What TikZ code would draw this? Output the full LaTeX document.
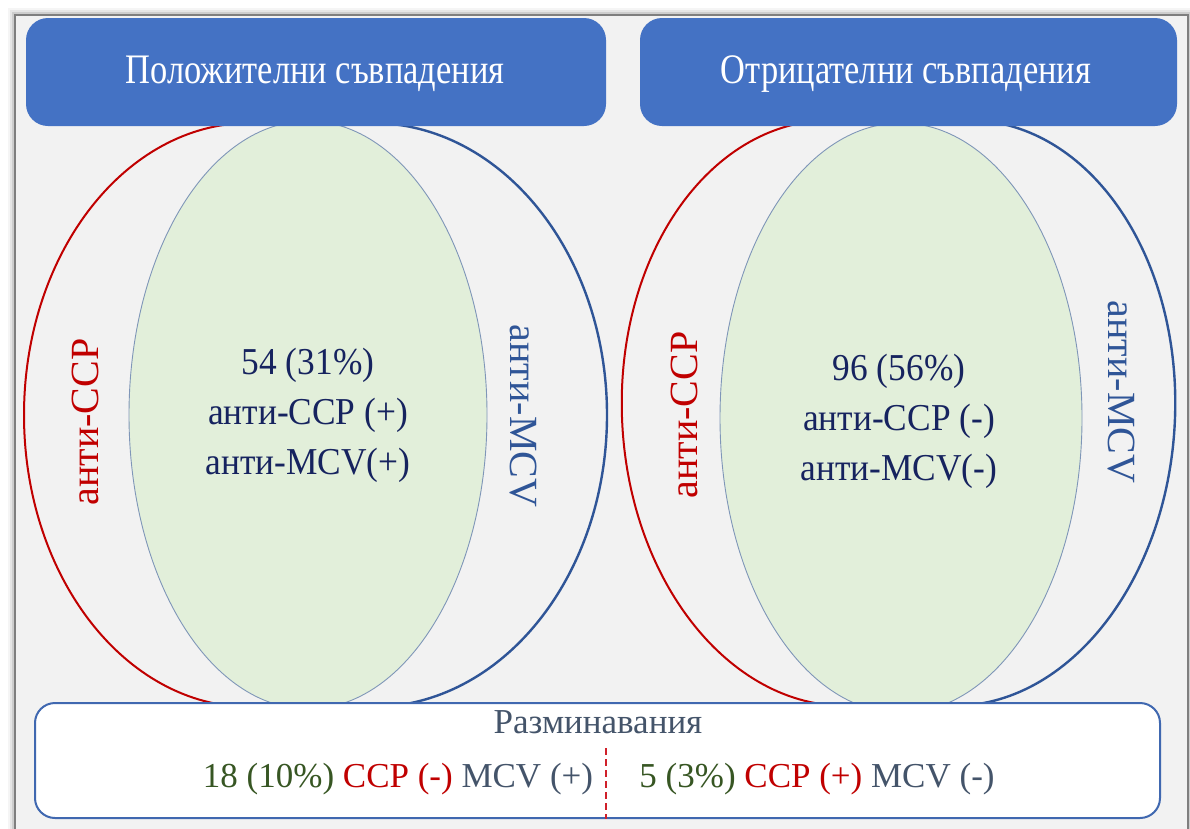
\documentclass[tikz,border=0pt]{standalone}
\usepackage{fontspec}
\usepackage{graphicx}
\setmainfont{Liberation Serif}
\usepackage{tikz}
\usetikzlibrary{shapes.geometric}

\definecolor{framebg}{HTML}{F2F2F2}
\definecolor{frameedge}{HTML}{7F7F7F}
\definecolor{headblue}{HTML}{4472C4}
\definecolor{ccpred}{HTML}{C00000}
\definecolor{mcvblue}{HTML}{2F5597}
\definecolor{bothgreen}{HTML}{E2EFDA}
\definecolor{ringedge}{HTML}{7F96B8}
\definecolor{midnavy}{HTML}{16235F}
\definecolor{boxblue}{HTML}{4068B0}
\definecolor{diffgreen}{HTML}{375623}
\definecolor{diffgray}{HTML}{44546A}
\definecolor{sepred}{HTML}{D0202A}

\newcommand{\narrow}[2]{\scalebox{#1}[1]{#2}}

\begin{document}
\begin{tikzpicture}[x=1pt, y=-1pt,
  ccpring/.style={ellipse, draw=ccpred, line width=2pt, inner sep=0pt},
  mcvring/.style={ellipse, draw=mcvblue, line width=2.4pt, inner sep=0pt},
  bothring/.style={ellipse, draw=ringedge, fill=bothgreen, line width=0.9pt, inner sep=0pt},
  banner/.style={fill=headblue, rounded corners=22pt, inner sep=0pt},
  headtext/.style={text=white, font=\fontsize{42}{50}\selectfont, anchor=base, inner sep=0pt},
  sidetext/.style={font=\fontsize{40}{48}\selectfont, inner sep=0pt},
  midtext/.style={text=midnavy, align=center, font=\fontsize{38}{50}\selectfont, inner sep=0pt},
  diffbox/.style={draw=boxblue, fill=white, line width=2pt, rounded corners=20pt, inner sep=0pt},
  difftext/.style={font=\fontsize{35}{42}\selectfont, anchor=base, inner sep=0pt},
  sepline/.style={draw=sepred, line width=2pt, dash pattern=on 7pt off 4pt}]
\useasboundingbox (0,0) rectangle (1190,828);
\fill[white] (0,0) rectangle (1190,828);
\foreach \s/\o in {7/0.04, 5/0.06, 3/0.10}
  \fill[black, opacity=\o] (15-\s,15-\s) rectangle (1188+\s,850);
\filldraw[fill=framebg, draw=frameedge, line width=2.5pt] (15,15) rectangle (1188,850);

% positive matches
\node[ccpring, minimum width=452pt, minimum height=584pt] (ccpPos) at (250,415) {};
\node[mcvring, minimum width=470pt, minimum height=584pt] (mcvPos) at (372,415) {};
\node[bothring, minimum width=358pt, minimum height=588pt] (bothPos) at (308,415) {};
\node[sidetext, text=ccpred, rotate=90] (ccpPosLabel) at (85,422) {анти-CCP};
\node[sidetext, text=mcvblue, rotate=-90] (mcvPosLabel) at (523,416) {анти-MCV};
\node[midtext] (bothPosText) at (bothPos.center) {\narrow{.93}{54 (31\%)}\\\narrow{.93}{анти-CCP (+)}\\\narrow{.93}{анти-MCV(+)}};

% negative matches
\node[ccpring, minimum width=432pt, minimum height=586pt, rotate=3] (ccpNeg) at (838,413) {};
\node[mcvring, minimum width=428pt, minimum height=586pt, rotate=-3] (mcvNeg) at (961,413) {};
\node[bothring, minimum width=362pt, minimum height=590pt] (bothNeg) at (901,418) {};
\node[sidetext, text=ccpred, rotate=90] (ccpNegLabel) at (684,415) {анти-CCP};
\node[sidetext, text=mcvblue, rotate=-90] (mcvNegLabel) at (1121,392) {анти-MCV};
\node[midtext] (bothNegText) at (899,421) {\narrow{.93}{96 (56\%)}\\\narrow{.93}{анти-CCP (-)}\\\narrow{.93}{анти-MCV(-)}};

% headers
\node[banner, minimum width=580pt, minimum height=108pt] (posHead) at (316,72) {};
\node[banner, minimum width=537pt, minimum height=108pt] (negHead) at (908.5,72) {};
\node[headtext] (posTitle) at (315,83) {\narrow{.82}{Положителни съвпадения}};
\node[headtext] (negTitle) at (906,83) {\narrow{.82}{Отрицателни съвпадения}};

% mismatches
\node[diffbox, minimum width=1125pt, minimum height=115pt] (diffBox) at (597.5,760.5) {};
\node[difftext, text=diffgray] (diffTitle) at (598,733) {Разминавания};
\node[difftext] (diffLeft) at (398,787) {\textcolor{diffgreen}{18 (10\%)} \textcolor{ccpred}{CCP (-)} \textcolor{diffgray}{MCV (+)}};
\node[difftext] (diffRight) at (817,787) {\textcolor{diffgreen}{5 (3\%)} \textcolor{ccpred}{CCP (+)} \textcolor{diffgray}{MCV (-)}};
\coordinate (sepTop) at (606,748);
\draw[sepline] (sepTop) -- (sepTop |- diffBox.south);
\end{tikzpicture}
\end{document}
